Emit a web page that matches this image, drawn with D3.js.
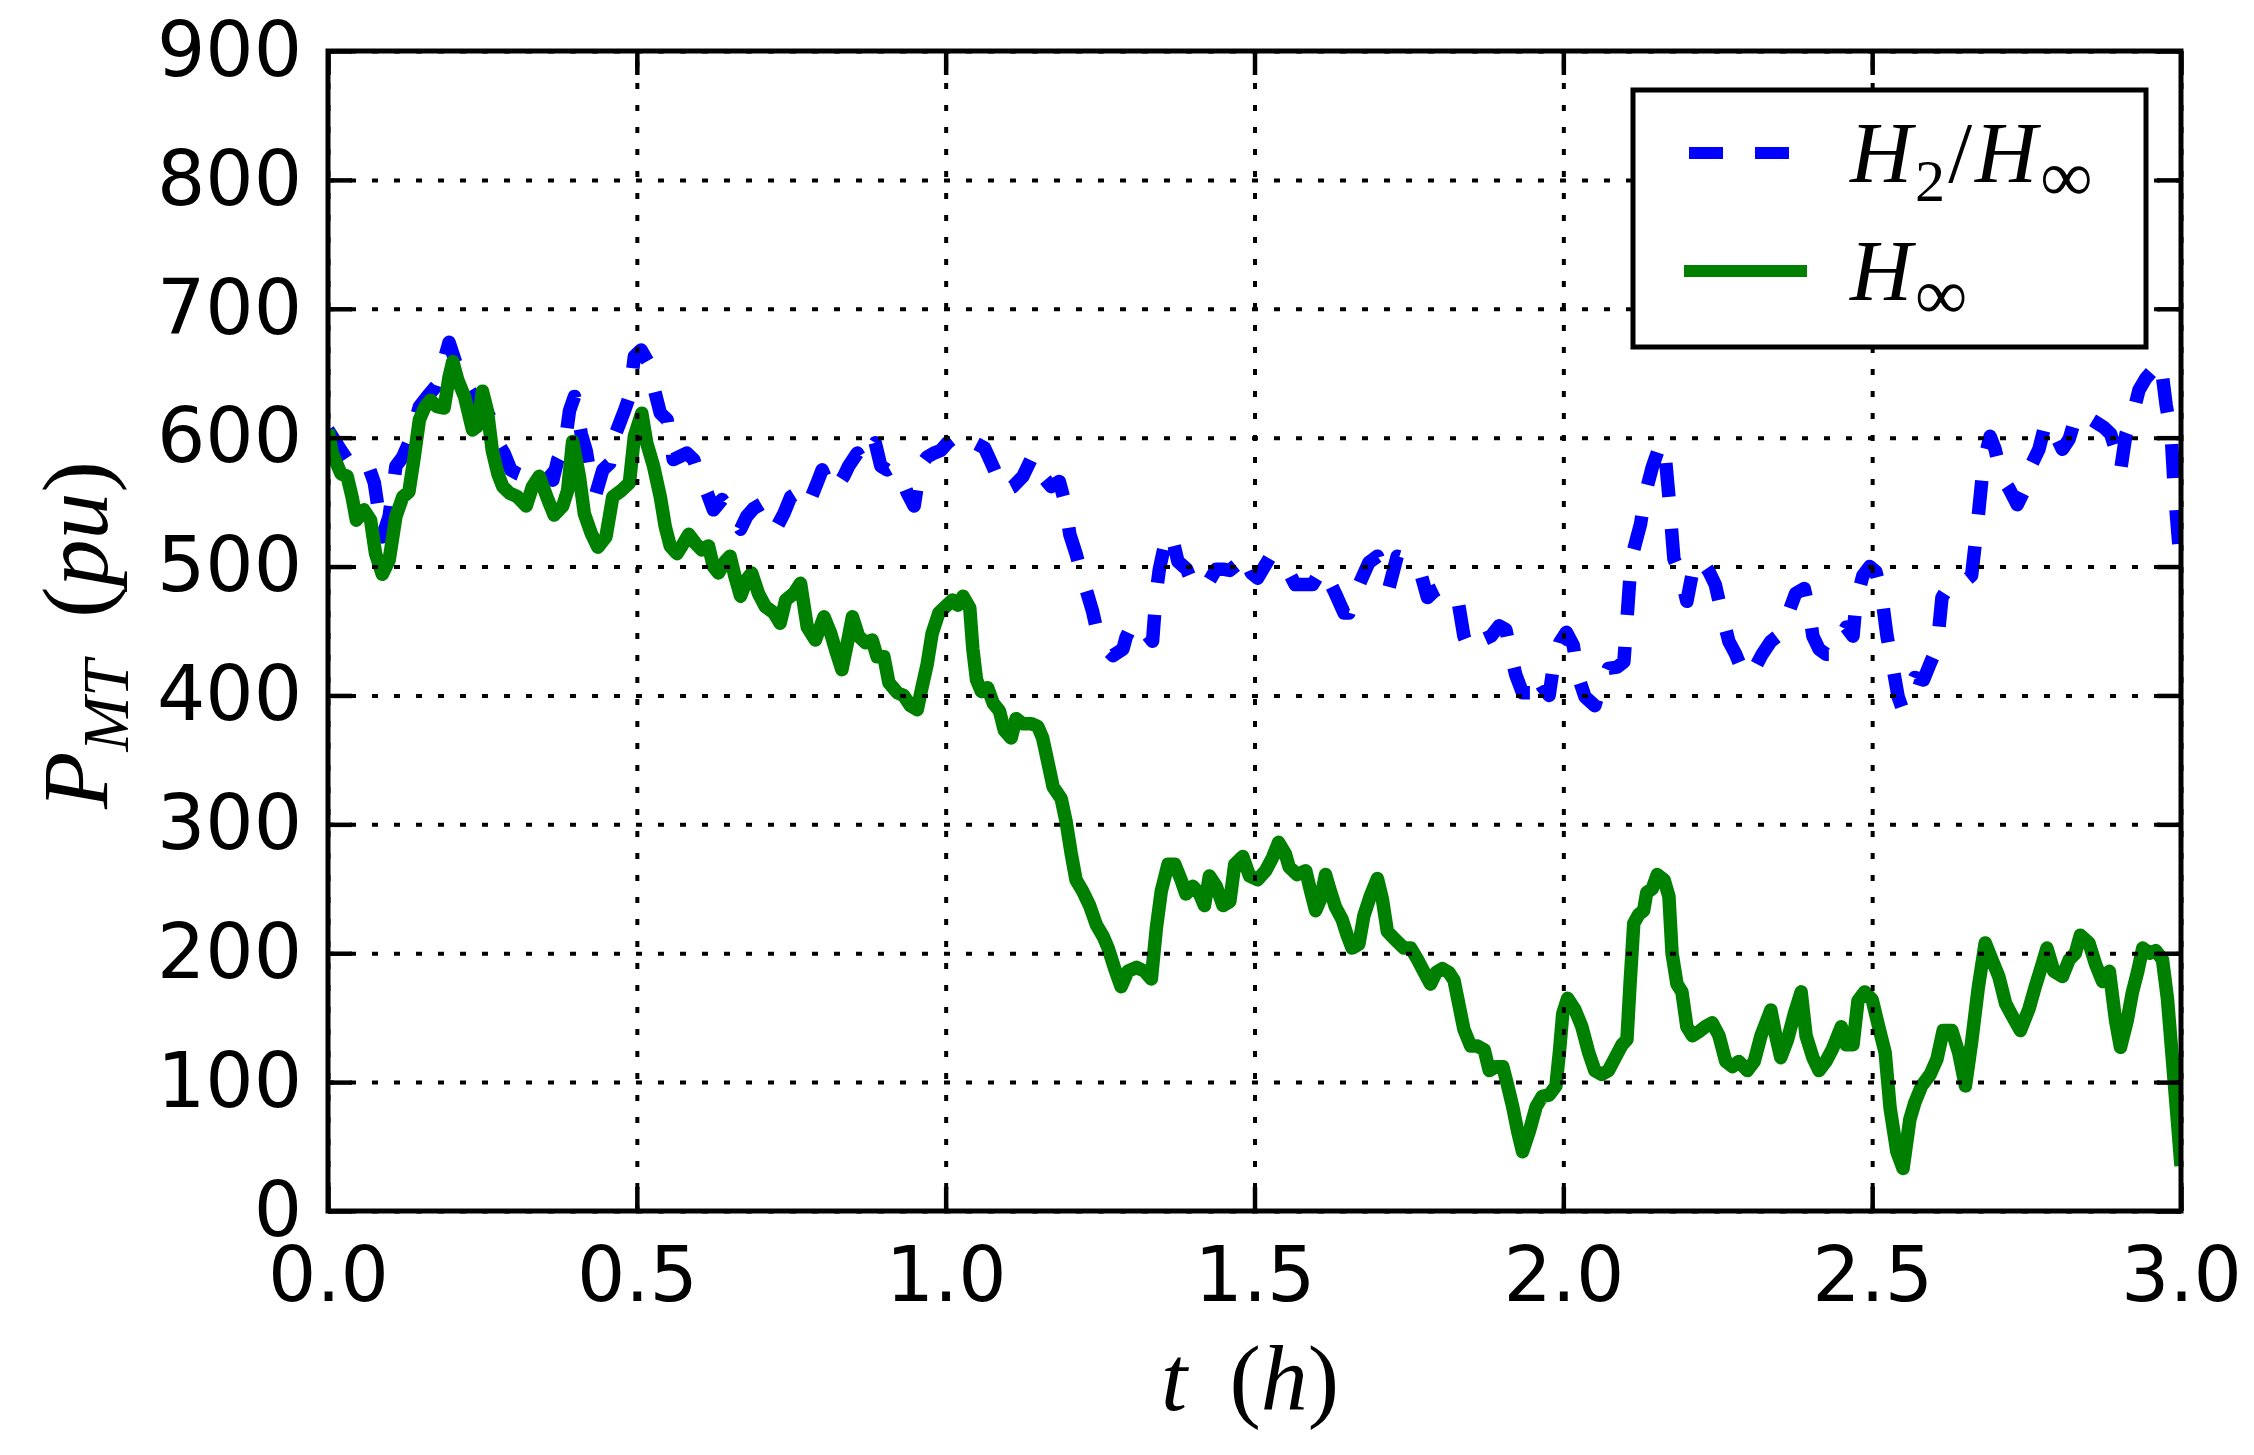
<!DOCTYPE html>
<html>
<head>
<meta charset="utf-8">
<script src="https://cdn.jsdelivr.net/npm/d3@7"></script>
<style>
  html, body { margin: 0; padding: 0; background: #fff; }
  svg { display: block; }
</style>
</head>
<body>
<div id="chart"></div>
<script>
// H2/Hinf controller (blue dashed)
const blueT = [0.000, 0.021, 0.031, 0.042, 0.053, 0.064, 0.075, 0.088, 0.099, 0.110, 0.121, 0.131, 0.139, 0.148, 0.161, 0.175, 0.185, 0.196, 0.207, 0.218, 0.229, 0.239, 0.253, 0.264, 0.275, 0.285, 0.296, 0.307, 0.318, 0.329, 0.339, 0.353, 0.364, 0.372, 0.383, 0.391, 0.399, 0.410, 0.418, 0.426, 0.434, 0.445, 0.456, 0.464, 0.472, 0.480, 0.488, 0.496, 0.507,
  0.519, 0.527, 0.538, 0.549, 0.559, 0.581, 0.592, 0.600, 0.614, 0.624, 0.638, 0.646, 0.657, 0.668, 0.678, 0.689, 0.703, 0.711, 0.727, 0.738, 0.749, 0.759, 0.770, 0.781, 0.792, 0.800, 0.814, 0.824, 0.835, 0.843, 0.857, 0.868, 0.878, 0.886, 0.895, 0.905, 0.916, 0.927, 0.938, 0.949, 0.959, 0.970, 0.981, 0.992, 1.003, 1.016,
  1.028, 1.039, 1.047, 1.063, 1.079, 1.093, 1.109, 1.125, 1.141, 1.157, 1.171, 1.184, 1.193, 1.201, 1.211, 1.225, 1.238, 1.246, 1.260, 1.271, 1.287, 1.292, 1.303, 1.314, 1.325, 1.335, 1.341, 1.346, 1.357, 1.365, 1.376, 1.390, 1.403, 1.416, 1.427, 1.438, 1.449, 1.460, 1.470, 1.481, 1.495, 1.505,
  1.526, 1.539, 1.553, 1.566, 1.580, 1.594, 1.604, 1.615, 1.623, 1.631, 1.645, 1.653, 1.661, 1.672, 1.685, 1.699, 1.707, 1.718, 1.731, 1.745, 1.758, 1.769, 1.780, 1.791, 1.804, 1.818, 1.829, 1.839, 1.848, 1.858, 1.869, 1.883, 1.896, 1.907, 1.915, 1.923, 1.934, 1.948, 1.956, 1.966, 1.977, 1.985, 1.994, 2.005,
  2.016, 2.024, 2.035, 2.051, 2.062, 2.073, 2.087, 2.098, 2.103, 2.108, 2.114, 2.125, 2.133, 2.144, 2.154, 2.163, 2.171, 2.179, 2.190, 2.200, 2.211, 2.222, 2.236, 2.246, 2.257, 2.268, 2.279, 2.290, 2.301, 2.311, 2.322, 2.336, 2.347, 2.358, 2.366, 2.376, 2.390, 2.398, 2.404, 2.414, 2.425, 2.436, 2.447, 2.458, 2.469, 2.474, 2.485, 2.496, 2.506, 2.515,
  2.524, 2.531, 2.542, 2.548, 2.559, 2.569, 2.583, 2.594, 2.605, 2.613, 2.626, 2.637, 2.651, 2.661, 2.670, 2.678, 2.683, 2.691, 2.699, 2.710, 2.721, 2.735, 2.748, 2.759, 2.770, 2.781, 2.791, 2.808, 2.819, 2.827, 2.837, 2.848, 2.862, 2.875, 2.886, 2.894, 2.902, 2.911, 2.921, 2.932, 2.943, 2.954, 2.967, 2.976, 2.984, 2.989, 2.997, 3.000];
const blueP = [606, 590, 583, 578, 578, 580, 565, 523, 539, 578, 585, 596, 609, 624, 632, 640, 655, 674, 658, 650, 637, 629, 624, 614, 596, 588, 575, 572, 570, 575, 578, 572, 567, 583, 593, 621, 632, 603, 590, 567, 557, 575, 580, 601, 611, 621, 632, 663, 668,
  658, 640, 619, 614, 583, 588, 583, 572, 557, 544, 552, 547, 539, 529, 539, 545, 549, 547, 531, 541, 554, 557, 562, 552, 565, 575, 559, 562, 570, 578, 588, 580, 590, 596, 578, 575, 578, 570, 557, 547, 578, 585, 588, 590, 596, 601,
  604, 601, 596, 592, 575, 558, 562, 570, 586, 570, 562, 566, 550, 525, 510, 486, 465, 448, 436, 431, 436, 445, 456, 448, 448, 442, 480, 498, 522, 526, 504, 498, 483, 486, 489, 498, 498, 497, 501, 510, 495, 491,
  508, 505, 498, 486, 486, 486, 494, 498, 487, 479, 464, 464, 476, 489, 503, 508, 495, 484, 508, 506, 502, 495, 476, 481, 484, 481, 475, 446, 435, 438, 443, 446, 454, 451, 432, 416, 402, 402, 416, 407, 400, 426, 441, 449,
  439, 415, 399, 392, 409, 421, 422, 426, 459, 493, 513, 533, 557, 577, 591, 596, 554, 506, 493, 473, 500, 506, 496, 486, 463, 442, 432, 419, 415, 422, 432, 442, 446, 456, 466, 479, 483, 466, 446, 436, 432, 432, 442, 453, 446, 473, 493, 500, 496, 479,
  446, 429, 399, 391, 403, 414, 412, 425, 437, 476, 486, 484, 489, 493, 531, 569, 586, 601, 591, 569, 561, 548, 561, 580, 591, 612, 608, 591, 599, 612, 620, 616, 612, 608, 603, 591, 574, 603, 616, 637, 646, 652, 659, 625, 603, 561, 514, 506];

// Hinf controller (green solid)
const greenT = [0.000, 0.007, 0.021, 0.031, 0.039, 0.046, 0.058, 0.069, 0.077, 0.088, 0.099, 0.110, 0.121, 0.131, 0.139, 0.148, 0.156, 0.166, 0.177, 0.188, 0.196, 0.202, 0.210, 0.221, 0.234, 0.242, 0.250, 0.258, 0.266, 0.275, 0.283, 0.294, 0.307, 0.321, 0.331, 0.342, 0.356, 0.366, 0.380, 0.388, 0.396, 0.407, 0.415, 0.426, 0.437, 0.450, 0.461, 0.475, 0.488, 0.496, 0.508,
  0.516, 0.527, 0.538, 0.546, 0.554, 0.565, 0.573, 0.584, 0.595, 0.605, 0.616, 0.624, 0.632, 0.643, 0.651, 0.659, 0.668, 0.678, 0.686, 0.697, 0.708, 0.722, 0.732, 0.741, 0.754, 0.765, 0.776, 0.789, 0.803, 0.814, 0.822, 0.832, 0.841, 0.849, 0.859, 0.870, 0.881, 0.889, 0.900, 0.908, 0.922, 0.932, 0.943, 0.954, 0.962, 0.970, 0.978, 0.989, 1.000, 1.011,
  1.020, 1.028, 1.039, 1.044, 1.050, 1.058, 1.068, 1.077, 1.087, 1.095, 1.106, 1.114, 1.125, 1.139, 1.149, 1.157, 1.166, 1.174, 1.187, 1.195, 1.203, 1.211, 1.222, 1.233, 1.244, 1.255, 1.263, 1.273, 1.284, 1.295, 1.309, 1.322, 1.333, 1.341, 1.349, 1.360, 1.371, 1.381, 1.389, 1.400, 1.411, 1.419, 1.427, 1.438, 1.449, 1.460, 1.468, 1.481, 1.492, 1.505, 1.518,
  1.529, 1.539, 1.550, 1.556, 1.569, 1.583, 1.591, 1.599, 1.607, 1.615, 1.623, 1.631, 1.642, 1.650, 1.658, 1.669, 1.677, 1.688, 1.699, 1.707, 1.715, 1.729, 1.742, 1.753, 1.764, 1.775, 1.785, 1.794, 1.804, 1.815, 1.823, 1.831, 1.839, 1.850, 1.861, 1.872, 1.880, 1.891, 1.902, 1.910, 1.918, 1.926, 1.934, 1.945, 1.956, 1.966, 1.977, 1.988, 1.994, 1.999, 2.007,
  2.019, 2.030, 2.041, 2.051, 2.062, 2.073, 2.084, 2.095, 2.103, 2.108, 2.114, 2.122, 2.130, 2.135, 2.144, 2.152, 2.163, 2.171, 2.176, 2.184, 2.192, 2.200, 2.209, 2.219, 2.230, 2.241, 2.252, 2.263, 2.274, 2.284, 2.298, 2.309, 2.320, 2.328, 2.336, 2.344, 2.352, 2.363, 2.374, 2.385, 2.393, 2.404, 2.414, 2.425, 2.436, 2.450, 2.458, 2.469, 2.477, 2.488, 2.500,
  2.510, 2.521, 2.529, 2.540, 2.550, 2.561, 2.569, 2.580, 2.594, 2.605, 2.615, 2.629, 2.640, 2.651, 2.661, 2.672, 2.683, 2.694, 2.705, 2.716, 2.726, 2.740, 2.754, 2.764, 2.775, 2.783, 2.794, 2.808, 2.819, 2.829, 2.837, 2.851, 2.862, 2.873, 2.884, 2.894, 2.902, 2.913, 2.921, 2.930, 2.938, 2.949, 2.959, 2.970, 2.978, 2.986, 2.994, 3.000];
const greenP = [606, 588, 572, 570, 554, 536, 544, 536, 510, 494, 505, 539, 554, 558, 583, 614, 623, 629, 624, 623, 647, 659, 645, 632, 606, 609, 636, 621, 590, 572, 562, 557, 554, 547, 562, 570, 552, 540, 547, 559, 597, 570, 541, 526, 515, 523, 554, 559, 565, 601, 619,
  596, 578, 554, 531, 516, 510, 516, 525, 518, 513, 516, 500, 495, 504, 508, 492, 477, 490, 495, 479, 469, 464, 456, 474, 479, 487, 453, 443, 461, 448, 435, 420, 441, 461, 446, 441, 443, 430, 430, 410, 402, 400, 392, 389, 407, 424, 448, 464, 469, 474,
  470, 477, 468, 436, 412, 403, 406, 394, 388, 373, 367, 382, 378, 378, 376, 367, 347, 329, 320, 302, 278, 257, 248, 237, 222, 213, 204, 189, 174, 186, 189, 186, 180, 219, 248, 269, 269, 257, 246, 252, 246, 237, 260, 252, 237, 240, 269, 275, 260, 257, 264,
  274, 286, 277, 267, 261, 264, 248, 233, 242, 261, 248, 236, 226, 214, 204, 207, 229, 245, 258, 242, 217, 210, 204, 204, 195, 185, 176, 185, 188, 185, 179, 160, 141, 128, 128, 125, 109, 112, 112, 97, 81, 62, 46, 62, 81, 89, 90, 97, 125, 153, 165,
  156, 143, 123, 109, 106, 109, 119, 129, 133, 176, 223, 230, 233, 247, 250, 261, 257, 244, 200, 176, 170, 143, 136, 139, 143, 146, 136, 116, 112, 116, 109, 116, 136, 146, 156, 136, 119, 133, 153, 170, 136, 119, 109, 116, 126, 143, 129, 129, 163, 170, 164,
  144, 123, 80, 46, 33, 71, 84, 97, 106, 118, 140, 140, 123, 97, 131, 174, 208, 195, 182, 161, 152, 140, 157, 174, 191, 204, 186, 182, 195, 200, 214, 208, 191, 178, 186, 148, 127, 148, 169, 186, 204, 200, 202, 195, 165, 118, 71, 35];

const xTicks = [0, 0.5, 1.0, 1.5, 2.0, 2.5, 3.0];
const yTicks = [0, 100, 200, 300, 400, 500, 600, 700, 800, 900];

const seriesNames = ["H2/Hinf", "Hinf"];
const seriesColors = ["#0000ff", "#008000"];

const width = 2254, height = 1455;
const margin = { top: 51, right: 73, bottom: 244, left: 328 };
const plotW = width - margin.left - margin.right;
const plotH = height - margin.top - margin.bottom;
const lineW = 13.5;
const tickFont = "'DejaVu Sans', sans-serif";
const mathFont = "'Liberation Serif', 'Times New Roman', serif";

const svg = d3.select("#chart")
  .append("svg")
  .attr("width", width)
  .attr("height", height);

svg.append("rect").attr("width", width).attr("height", height).attr("fill", "#fff");

const x = d3.scaleLinear().domain([0, 3]).range([margin.left, margin.left + plotW]);
const y = d3.scaleLinear().domain([0, 900]).range([margin.top + plotH, margin.top]);

svg.append("clipPath").attr("id", "plotclip")
  .append("rect")
  .attr("x", margin.left).attr("y", margin.top)
  .attr("width", plotW).attr("height", plotH);

const line = d3.line().x((d) => x(d[0])).y((d) => y(d[1]));
const blueData = blueT.map((t, i) => [t, blueP[i]]);
const greenData = greenT.map((t, i) => [t, greenP[i]]);

// Lines: blue first, green on top
const lines = svg.append("g").attr("clip-path", "url(#plotclip)").attr("fill", "none");
lines.append("path")
  .datum(blueData)
  .attr("d", line)
  .attr("stroke", seriesColors[0])
  .attr("stroke-width", lineW)
  .attr("stroke-dasharray", "34,32")
  .attr("stroke-linejoin", "round")
  .attr("stroke-linecap", "butt");
lines.append("path")
  .datum(greenData)
  .attr("d", line)
  .attr("stroke", seriesColors[1])
  .attr("stroke-width", lineW)
  .attr("stroke-linejoin", "round");

// Dotted grid
function styleGrid(g) {
  g.select(".domain").remove();
  g.selectAll(".tick text").remove();
  g.selectAll(".tick line")
    .attr("stroke", "#000")
    .attr("stroke-width", 4)
    .attr("stroke-dasharray", "6,16");
}
svg.append("g")
  .attr("transform", `translate(0,${margin.top + plotH})`)
  .call(d3.axisBottom(x).tickValues(xTicks).tickSizeInner(-plotH).tickSizeOuter(0))
  .call(styleGrid);
svg.append("g")
  .attr("transform", `translate(${margin.left},0)`)
  .call(d3.axisLeft(y).tickValues(yTicks).tickSizeInner(-plotW).tickSizeOuter(0))
  .call(styleGrid);

// Axes with inward ticks on all four sides
function styleAxis(g, showText) {
  g.select(".domain").remove();
  g.selectAll(".tick line").attr("stroke", "#000").attr("stroke-width", 4.5);
  if (showText) {
    g.selectAll(".tick text")
      .attr("fill", "#000")
      .style("font-family", tickFont)
      .style("font-size", "76px");
  } else {
    g.selectAll(".tick text").remove();
  }
}
const tick = 24;
svg.append("g")
  .attr("transform", `translate(0,${margin.top + plotH})`)
  .call(d3.axisBottom(x).tickValues(xTicks).tickFormat(d3.format(".1f")).tickSizeInner(-tick).tickSizeOuter(0).tickPadding(36))
  .call((g) => styleAxis(g, true));
svg.append("g")
  .attr("transform", `translate(0,${margin.top})`)
  .call(d3.axisTop(x).tickValues(xTicks).tickSizeInner(-tick).tickSizeOuter(0))
  .call((g) => styleAxis(g, false));
svg.append("g")
  .attr("transform", `translate(${margin.left},0)`)
  .call(d3.axisLeft(y).tickValues(yTicks).tickFormat(d3.format("d")).tickSizeInner(-tick).tickSizeOuter(0).tickPadding(26))
  .call((g) => styleAxis(g, true));
svg.append("g")
  .attr("transform", `translate(${margin.left + plotW},0)`)
  .call(d3.axisRight(y).tickValues(yTicks).tickSizeInner(-tick).tickSizeOuter(0))
  .call((g) => styleAxis(g, false));

// Frame
svg.append("rect")
  .attr("x", margin.left).attr("y", margin.top)
  .attr("width", plotW).attr("height", plotH)
  .attr("fill", "none")
  .attr("stroke", "#000")
  .attr("stroke-width", 5);

// Axis labels (math style)
function mathText(sel, parts, size) {
  sel.style("font-family", mathFont).style("font-size", size + "px").attr("fill", "#000");
  let shift = 0;
  parts.forEach((p) => {
    const ts = sel.append("tspan").text(p.t);
    if (p.it) ts.style("font-style", "italic");
    const want = p.sub ? 0.22 * size : 0;
    if (want !== shift) { ts.attr("dy", want - shift); shift = want; }
    if (p.sub) ts.style("font-size", (size * (p.scale || 0.7)) + "px");
  });
}

svg.append("text")
  .attr("x", 1250).attr("y", 1410)
  .attr("text-anchor", "middle")
  .call(mathText, [{ t: "t", it: true }, { t: "\u2009\u00A0(" }, { t: "h", it: true }, { t: ")" }], 94);

svg.append("text")
  .attr("transform", "translate(107,635) rotate(-90)")
  .attr("text-anchor", "middle")
  .call(mathText, [{ t: "P", it: true }, { t: "MT", it: true, sub: true }, { t: "\u2009\u00A0(" }, { t: "pu", it: true }, { t: ")" }], 94);

// Legend
const legend = svg.append("g");
legend.append("rect")
  .attr("x", 1633).attr("y", 90)
  .attr("width", 513).attr("height", 257)
  .attr("fill", "#fff")
  .attr("stroke", "#000")
  .attr("stroke-width", 5);
const legendRows = [
  { y: 153, dash: "34,32", parts: [{ t: "H", it: true }, { t: "2", sub: true }, { t: "/" }, { t: "H", it: true }, { t: "\u221E", sub: true, scale: 0.85 }] },
  { y: 271, dash: null, parts: [{ t: "H", it: true }, { t: "\u221E", sub: true, scale: 0.85 }] }
];
legendRows.forEach((r, i) => {
  legend.append("line")
    .attr("x1", 1684).attr("x2", 1807)
    .attr("y1", r.y).attr("y2", r.y)
    .attr("stroke", seriesColors[i])
    .attr("stroke-width", 12)
    .attr("stroke-dasharray", r.dash)
    .attr("stroke-dashoffset", r.dash ? -5 : null);
  legend.append("text")
    .attr("x", 1850).attr("y", r.y + 29)
    .attr("letter-spacing", 3)
    .call(mathText, r.parts, 86);
});
</script>
</body>
</html>
